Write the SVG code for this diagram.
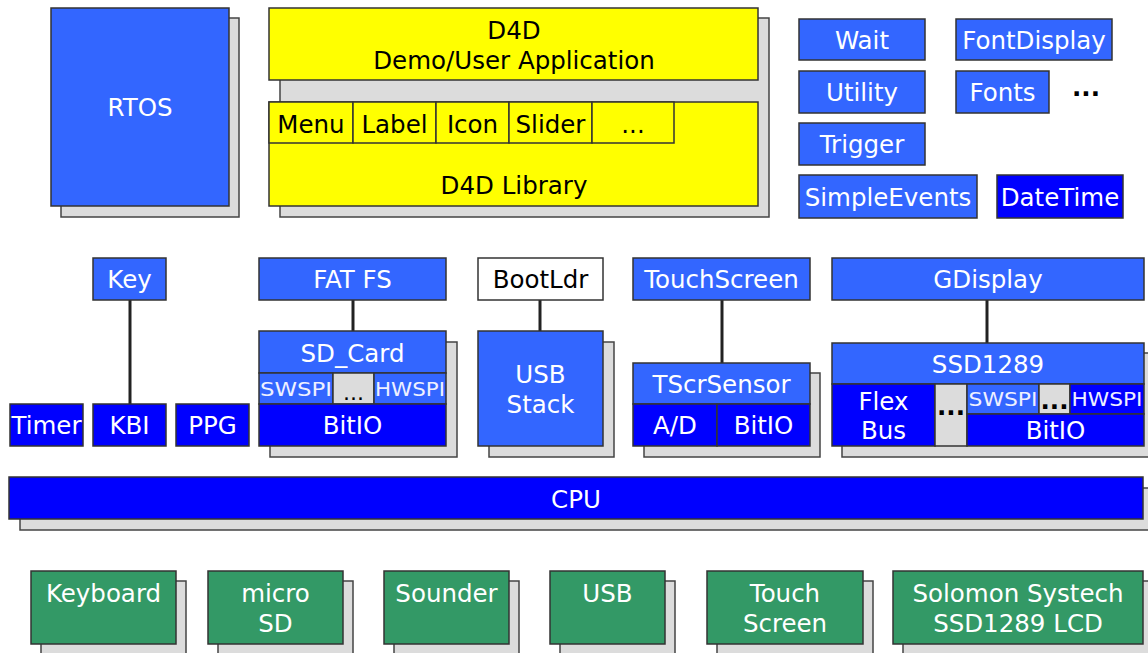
<svg xmlns="http://www.w3.org/2000/svg" width="1148" height="653" viewBox="0 0 1148 653">
<style>
rect{stroke:#333;stroke-width:1.5}
.sh{fill:#dcdcdc;stroke:#444}
.lb{fill:#3366ff}
.db{fill:#0000ff}
.ye{fill:#ffff00}
.gr{fill:#339966}
.wh{fill:#ffffff}
.gy{fill:#dcdcdc}
text{font-family:"DejaVu Sans","Verdana",sans-serif;font-size:24.5px;text-anchor:middle}
.w{fill:#fff}
.k{fill:#000}
.sm{font-size:19px;fill:#eef0ff}
.dots{font-weight:bold;fill:#000}
.con line{stroke:#222;stroke-width:3}
</style>
<rect width="1148" height="653" fill="#fff" style="stroke:none"/>

<g class="con" id="connectors">
<line x1="130" y1="300" x2="130" y2="404"/>
<line x1="353" y1="300" x2="353" y2="331"/>
<line x1="540" y1="300" x2="540" y2="331"/>
<line x1="722" y1="300" x2="722" y2="363"/>
<line x1="987" y1="300" x2="987" y2="343"/>
</g>

<g id="rtos">
<rect class="sh" x="61" y="18" width="178" height="199"/>
<rect class="lb" x="51" y="8" width="178" height="198"/>
<text class="w" x="140" y="116">RTOS</text>
</g>

<g id="d4d">
<rect class="sh" x="280" y="18" width="489" height="199"/>
<rect class="ye" x="269" y="8" width="489" height="72"/>
<text class="k" x="514" y="39">D4D</text>
<text class="k" x="514" y="69">Demo/User Application</text>
<rect class="ye" x="269" y="102" width="489" height="104"/>
<rect class="ye" x="269" y="102" width="84" height="41"/>
<rect class="ye" x="353" y="102" width="83" height="41"/>
<rect class="ye" x="436" y="102" width="73" height="41"/>
<rect class="ye" x="509" y="102" width="83" height="41"/>
<rect class="ye" x="592" y="102" width="82" height="41"/>
<text class="k" x="311" y="133">Menu</text>
<text class="k" x="394.5" y="133">Label</text>
<text class="k" x="472.5" y="133">Icon</text>
<text class="k" x="550.5" y="133">Slider</text>
<text class="k" x="633" y="133">...</text>
<text class="k" x="514" y="194">D4D Library</text>
</g>

<g id="wait"><rect class="lb" x="799" y="19" width="126" height="41"/><text class="w" x="862" y="48.5">Wait</text></g>
<g id="fontdisplay"><rect class="lb" x="956" y="19" width="156" height="41"/><text class="w" x="1034" y="48.5">FontDisplay</text></g>
<g id="utility"><rect class="lb" x="799" y="71" width="126" height="42"/><text class="w" x="862" y="100.5">Utility</text></g>
<g id="fonts"><rect class="lb" x="956" y="71" width="93" height="42"/><text class="w" x="1002.5" y="100.5">Fonts</text></g>
<g id="more"><text class="dots" x="1086" y="96">...</text></g>
<g id="trigger"><rect class="lb" x="799" y="123" width="126" height="42"/><text class="w" x="862" y="152.5">Trigger</text></g>
<g id="simpleevents"><rect class="lb" x="799" y="175" width="178" height="43"/><text class="w" x="888" y="205.5">SimpleEvents</text></g>
<g id="datetime"><rect class="db" x="997" y="175" width="126" height="43"/><text class="w" x="1060" y="205.5">DateTime</text></g>

<g id="key"><rect class="lb" x="93" y="258" width="73" height="42"/><text class="w" x="129.5" y="288">Key</text></g>
<g id="timer"><rect class="db" x="10" y="404" width="73" height="42"/><text class="w" x="46.5" y="434">Timer</text></g>
<g id="kbi"><rect class="db" x="93" y="404" width="73" height="42"/><text class="w" x="129.5" y="434">KBI</text></g>
<g id="ppg"><rect class="db" x="176" y="404" width="73" height="42"/><text class="w" x="212.5" y="434">PPG</text></g>

<g id="fatfs"><rect class="lb" x="259" y="258" width="187" height="42"/><text class="w" x="352.5" y="288">FAT FS</text></g>
<g id="sdcard">
<rect class="sh" x="270" y="342" width="187" height="115"/>
<rect class="lb" x="259" y="331" width="187" height="42"/>
<text class="w" x="352.5" y="361.5">SD_Card</text>
<rect class="lb" x="259" y="373" width="74" height="31"/>
<rect class="gy" x="333" y="373" width="41" height="31"/>
<rect class="lb" x="374" y="373" width="72" height="31"/>
<text class="sm" x="296" y="396" textLength="72" lengthAdjust="spacingAndGlyphs">SWSPI</text>
<text x="353.5" y="400" style="font-size:22px;fill:#000">...</text>
<text class="sm" x="410" y="396" textLength="70" lengthAdjust="spacingAndGlyphs">HWSPI</text>
<rect class="db" x="259" y="404" width="187" height="42"/>
<text class="w" x="352.5" y="434">BitIO</text>
</g>

<g id="bootldr"><rect class="wh" x="478" y="258" width="125" height="42"/><text class="k" x="540.5" y="288">BootLdr</text></g>
<g id="usbstack">
<rect class="sh" x="489" y="342" width="125" height="115"/>
<rect class="lb" x="478" y="331" width="125" height="115"/>
<text class="w" x="540.5" y="383">USB</text>
<text class="w" x="540.5" y="413">Stack</text>
</g>

<g id="touchscreen"><rect class="lb" x="633" y="258" width="177" height="42"/><text class="w" x="721.5" y="288">TouchScreen</text></g>
<g id="tscrsensor">
<rect class="sh" x="644" y="373" width="176" height="84"/>
<rect class="lb" x="633" y="363" width="177" height="41"/>
<text class="w" x="721.5" y="393">TScrSensor</text>
<rect class="db" x="633" y="404" width="84" height="42"/>
<rect class="db" x="717" y="404" width="93" height="42"/>
<text class="w" x="675" y="434">A/D</text>
<text class="w" x="763.5" y="434">BitIO</text>
</g>

<g id="gdisplay"><rect class="lb" x="832" y="258" width="312" height="42"/><text class="w" x="988" y="288">GDisplay</text></g>
<g id="ssd1289">
<rect class="sh" x="842" y="353" width="320" height="104"/>
<rect class="lb" x="832" y="343" width="312" height="41"/>
<text class="w" x="988" y="372.5">SSD1289</text>
<rect class="db" x="832" y="384" width="103" height="62"/>
<text class="w" x="883.5" y="410">Flex</text>
<text class="w" x="883.5" y="439">Bus</text>
<rect class="gy" x="935" y="384" width="32" height="62"/>
<text class="dots" x="951" y="415">...</text>
<rect class="lb" x="967" y="384" width="72" height="30"/>
<rect class="gy" x="1039" y="384" width="31" height="30"/>
<rect class="db" x="1070" y="384" width="74" height="30"/>
<text class="sm" x="1003" y="406" textLength="69" lengthAdjust="spacingAndGlyphs">SWSPI</text>
<text class="dots" x="1054.5" y="409">...</text>
<text class="sm" x="1107" y="406" textLength="71" lengthAdjust="spacingAndGlyphs">HWSPI</text>
<rect class="db" x="967" y="414" width="177" height="32"/>
<text class="w" x="1055.5" y="439">BitIO</text>
</g>

<g id="cpu">
<rect class="sh" x="20" y="488" width="1140" height="42"/>
<rect class="db" x="9" y="477" width="1134" height="42"/>
<text class="w" x="576" y="507.5">CPU</text>
</g>

<g id="keyboard"><rect class="sh" x="41" y="581" width="145" height="80"/><rect class="gr" x="31" y="571" width="145" height="73"/><text class="w" x="103.5" y="602">Keyboard</text></g>
<g id="microsd"><rect class="sh" x="218" y="581" width="135" height="80"/><rect class="gr" x="208" y="571" width="135" height="73"/><text class="w" x="275.5" y="602">micro</text><text class="w" x="275.5" y="632">SD</text></g>
<g id="sounder"><rect class="sh" x="394" y="581" width="125" height="80"/><rect class="gr" x="384" y="571" width="125" height="73"/><text class="w" x="446.5" y="602">Sounder</text></g>
<g id="usb"><rect class="sh" x="560" y="581" width="115" height="80"/><rect class="gr" x="550" y="571" width="115" height="73"/><text class="w" x="607.5" y="602">USB</text></g>
<g id="touch"><rect class="sh" x="717" y="581" width="156" height="80"/><rect class="gr" x="707" y="571" width="156" height="73"/><text class="w" x="785" y="602">Touch</text><text class="w" x="785" y="632">Screen</text></g>
<g id="solomon"><rect class="sh" x="903" y="581" width="260" height="80"/><rect class="gr" x="893" y="571" width="250" height="73"/><text class="w" x="1018" y="602">Solomon Systech</text><text class="w" x="1018" y="632">SSD1289 LCD</text></g>
</svg>
